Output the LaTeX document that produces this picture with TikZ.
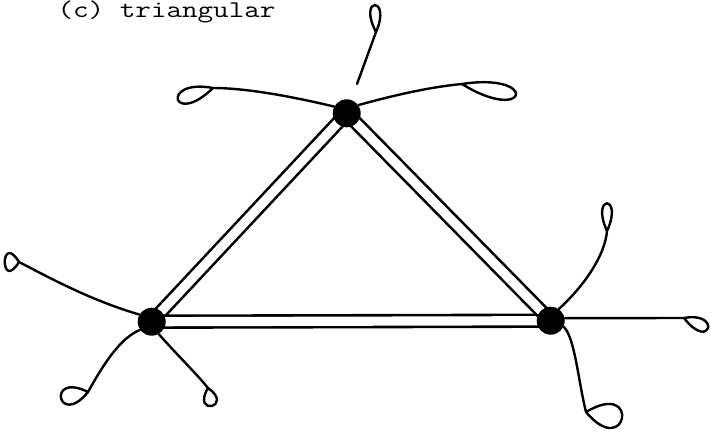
\documentclass[tikz,border=0pt]{standalone}
\usepackage{tikz}
\begin{document}
\begin{tikzpicture}[
        x=0.5pt, y=-0.5pt,
        every node/.style={font=\fontsize{12}{14}\selectfont\ttfamily},
        vertex/.style={circle, fill=black, inner sep=0pt, minimum size=14pt},
        bond/.style={double, double distance=4.6pt, line width=1.3pt},
        tail/.style={line width=1.2pt, line cap=round, line join=round}
    ]
    \useasboundingbox (0,0) rectangle (711,433);

    % Title
    \node[anchor=base west, inner sep=0pt, xscale=1.26, transform shape] (title) at (57,18) {(c) triangular};

    % Centres of the three vertices
    \coordinate (pTop) at (346.7,113.3);
    \coordinate (pLeft) at (151.7,321.7);
    \coordinate (pRight) at (550.7,320.7);

    % Double bonds of the triangle
    \draw[bond] (pTop) -- (pLeft);
    \draw[bond] (pLeft) -- (pRight);
    \draw[bond] (pRight) -- (pTop);

    % Vertices
    \node[vertex] (vtop) at (pTop) {};
    \node[vertex] (vleft) at (pLeft) {};
    \node[vertex] (vright) at (pRight) {};

    % Knots at the free ends of the tails
    \coordinate (gapT) at (357,84);
    \coordinate (knotT) at (376,32);
    \coordinate (knotTL) at (213,88);
    \coordinate (knotTR) at (462,84);
    \coordinate (knotLU) at (19,262);
    \coordinate (knotLL) at (88,392);
    \coordinate (knotLR) at (208,388);
    \coordinate (knotRU) at (607,231);
    \coordinate (knotRR) at (684,318);
    \coordinate (knotRD) at (586,412);

    % Tails of the top vertex
    \draw[tail] (vtop.152) .. controls (290,96) and (245,88) .. (knotTL)
        .. controls (160,78) and (172,128) .. (knotTL);
    \draw[tail] (vtop.35) .. controls (395,95) and (430,87) .. (knotTR)
        .. controls (540,72) and (528,125) .. (knotTR);
    \draw[tail] (gapT) -- (knotT)
        .. controls (392,-4) and (357,-4) .. (knotT);

    % Tails of the left vertex
    \draw[tail] (vleft.150) .. controls (90,300) and (50,278) .. (knotLU)
        .. controls (0,231) and (0,293) .. (knotLU);
    \draw[tail] (vleft.215) .. controls (120,338) and (103,365) .. (knotLL)
        .. controls (46,371) and (58,429) .. (knotLL);
    \draw[tail] (vleft.300) .. controls (178,356) and (195,372) .. (knotLR)
        .. controls (191,417) and (235,407) .. (knotLR);

    % Tails of the right vertex
    \draw[tail] (vright.55) .. controls (585,285) and (605,255) .. (knotRU)
        .. controls (590,194) and (624,194) .. (knotRU);
    \draw[tail] (vright.10) -- (knotRR)
        .. controls (722,311) and (710,352) .. (knotRR);
    \draw[tail] (vright.335) .. controls (575,338) and (578,380) .. (knotRD)
        .. controls (641,379) and (627,461) .. (knotRD);

\end{tikzpicture}
\end{document}
